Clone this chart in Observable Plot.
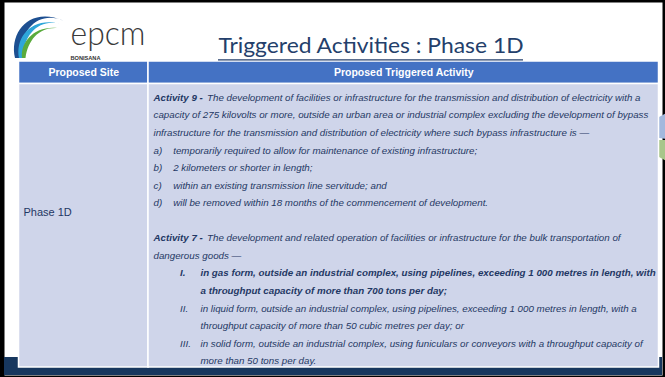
<!DOCTYPE html>
<html>
<head>
<meta charset="utf-8">
<script src="https://cdn.jsdelivr.net/npm/d3@7"></script>
<script src="https://cdn.jsdelivr.net/npm/@observablehq/plot@0.6"></script>
<style>
  html, body { margin: 0; padding: 0; background: #000; }
  #chart svg { display: block; }
</style>
</head>
<body>
<div id="chart"></div>
<script>
// ---------- content ----------
const titleText = "Triggered Activities : Phase 1D";
const logoWord = "epcm";
const logoSub = "BONISANA";
const headers = ["Proposed Site", "Proposed Triggered Activity"];
const siteLabel = "Phase 1D";

const activity9Lead = "Activity 9 -";
const activity9Intro = [
  "The development of facilities or infrastructure for the transmission and distribution of electricity with a",
  "capacity of 275 kilovolts or more, outside an urban area or industrial complex excluding the development of bypass",
  "infrastructure for the transmission and distribution of electricity where such bypass infrastructure is —"
];
const activity9Labels = ["a)", "b)", "c)", "d)"];
const activity9Items = [
  "temporarily required to allow for maintenance of existing infrastructure;",
  "2 kilometers or shorter in length;",
  "within an existing transmission line servitude; and",
  "will be removed within 18 months of the commencement of development."
];

const activity7Lead = "Activity 7 -";
const activity7Intro = [
  "The development and related operation of facilities or infrastructure for the bulk transportation of",
  "dangerous goods —"
];
const activity7Labels = ["I.", "II.", "III."];
const activity7Items = [
  ["in gas form, outside an industrial complex, using pipelines, exceeding 1 000 metres in length, with",
   "a throughput capacity of more than 700 tons per day;"],
  ["in liquid form, outside an industrial complex, using pipelines, exceeding 1 000 metres in length, with a",
   "throughput capacity of more than 50 cubic metres per day; or"],
  ["in solid form, outside an industrial complex, using funiculars or conveyors with a throughput capacity of",
   "more than 50 tons per day."]
];
const activity7Emphasis = [true, false, false];

// ---------- layout ----------
const W = 665, H = 377;
const L = {
  frame: {left: 4, top: 2, right: 3, bottom: 2},
  band: {x1: 4, x2: 662, y1: 357, y2: 375},
  table: {x1: 18.5, xMid: 148, x2: 658.5, yTop: 61, yHead: 83.5, yBottom: 367},
  textX: 153, leadGap: 206.5, itemX: 172.7, romanX: 179.5, romanTextX: 200,
  row0: 97.3, rowStep: 17.55,
  siteX: 23, siteY: 212,
  title: {x1: 218, x2: 523, y: 45, underline: 59.3}
};
const navy = "#17375e", headBlue = "#4472c4", bodyFill = "#cfd5ea", ink = "#1f3864";
const sans = "'Liberation Sans', Arial, sans-serif";
const bodySize = 9.75;

// ---------- build rows ----------
const rowY = r => L.row0 + r * L.rowStep;
const lines = []; // {x, y, text, bold}
let r = 0;
lines.push({x: L.textX, y: rowY(r), text: activity9Lead, bold: true});
activity9Intro.forEach((t, i) => lines.push({x: i === 0 ? L.leadGap : L.textX, y: rowY(r++), text: t, bold: false}));
activity9Items.forEach((t, i) => {
  lines.push({x: L.textX, y: rowY(r), text: activity9Labels[i], bold: false});
  lines.push({x: L.itemX, y: rowY(r++), text: t, bold: false});
});
r++; // blank line
lines.push({x: L.textX, y: rowY(r), text: activity7Lead, bold: true});
activity7Intro.forEach((t, i) => lines.push({x: i === 0 ? L.leadGap : L.textX, y: rowY(r++), text: t, bold: false}));
activity7Items.forEach((pair, i) => {
  lines.push({x: L.romanX, y: rowY(r), text: activity7Labels[i], bold: activity7Emphasis[i]});
  pair.forEach(t => lines.push({x: L.romanTextX, y: rowY(r++), text: t, bold: activity7Emphasis[i]}));
});

const T = L.table;
const cells = [
  {x1: T.x1, x2: T.xMid, y1: T.yTop, y2: T.yHead, fill: headBlue},
  {x1: T.xMid, x2: T.x2, y1: T.yTop, y2: T.yHead, fill: headBlue},
  {x1: T.x1, x2: T.xMid, y1: T.yHead, y2: T.yBottom, fill: bodyFill},
  {x1: T.xMid, x2: T.x2, y1: T.yHead, y2: T.yBottom, fill: bodyFill}
];
const headerLabels = headers.map((h, i) => ({
  text: h,
  x: i === 0 ? (T.x1 + T.xMid) / 2 : (T.xMid + T.x2) / 2,
  y: (T.yTop + T.yHead) / 2
}));

// decorations: logo swoosh and right-side shapes
function decor() {
  const ns = "http://www.w3.org/2000/svg";
  const g = document.createElementNS(ns, "g");
  const shapes = [
    ["M659,117 L668,112 L668,139 L659,138 Z", "#a3b8dd"],
    ["M659,140 L668,140 L668,162 L659,157 Z", "#a8c68b"],
    ["M15,58 C9,32 30,6 64,21 C42,11 21,25 19.5,58 Z", "#1d4f91"],
    ["M19,58 C15,37 32,16 61,24 C40,18 24,33 22.5,58 Z", "#2ea6d9"],
    ["M22,58 C20.5,42 34,26 57,28 C39,27 28,40 25.5,58 Z", "#5aab3c"]
  ];
  for (const [d, fill] of shapes) {
    const p = document.createElementNS(ns, "path");
    p.setAttribute("d", d); p.setAttribute("fill", fill);
    g.appendChild(p);
  }
  return g;
}

const chart = Plot.plot({
  width: W, height: H,
  margin: 0,
  x: {type: "identity", axis: null},
  y: {type: "identity", axis: null},
  style: {background: "#000"},
  marks: [
    Plot.frame({fill: "white", stroke: null, insetLeft: L.frame.left, insetTop: L.frame.top, insetRight: L.frame.right, insetBottom: L.frame.bottom}),
    Plot.rect([L.band], {x1: "x1", x2: "x2", y1: "y1", y2: "y2", fill: navy}),
    decor,
    Plot.rect(cells, {x1: "x1", x2: "x2", y1: "y1", y2: "y2", fill: "fill", stroke: "white", strokeWidth: 1.5}),
    Plot.text(headerLabels, {x: "x", y: "y", text: "text", fill: "white", fontWeight: "bold", fontSize: 10.5, fontFamily: sans}),
    Plot.text([siteLabel], {x: L.siteX, y: L.siteY, text: d => d, textAnchor: "start", fill: ink, fontSize: 11, fontFamily: sans}),
    Plot.text(lines.filter(d => !d.bold), {x: "x", y: "y", text: "text", textAnchor: "start", fill: ink, fontSize: bodySize, fontStyle: "italic", fontFamily: sans}),
    Plot.text(lines.filter(d => d.bold), {x: "x", y: "y", text: "text", textAnchor: "start", fill: ink, fontSize: bodySize, fontStyle: "italic", fontWeight: "bold", fontFamily: sans}),
    Plot.text([titleText], {x: L.title.x1, y: L.title.y, text: d => d, textAnchor: "start", fill: "#243f6b", fontSize: 22, fontFamily: "Lato, sans-serif"}),
    Plot.ruleY([L.title.underline], {x1: L.title.x1, x2: L.title.x2, stroke: "#243f6b", strokeWidth: 1.3}),
    Plot.text([logoWord], {x: 70, y: 34, text: d => d, textAnchor: "start", fill: "#3a3a3a", fontSize: 34, fontWeight: 300, fontFamily: "Lato, sans-serif"}),
    Plot.text([logoSub], {x: 70, y: 57.5, text: d => d, textAnchor: "start", fill: "#333", fontSize: 4.8, fontWeight: "bold", fontFamily: sans})
  ]
});

const sel = d3.select(chart);
const fit = (str, len) => sel.selectAll("text").filter(function() { return this.textContent === str; })
  .attr("textLength", len).attr("lengthAdjust", "spacingAndGlyphs");
fit(titleText, L.title.x2 - L.title.x1);
fit(logoWord, 75);
fit(logoSub, 30);
document.getElementById("chart").appendChild(chart);
</script>
</body>
</html>
